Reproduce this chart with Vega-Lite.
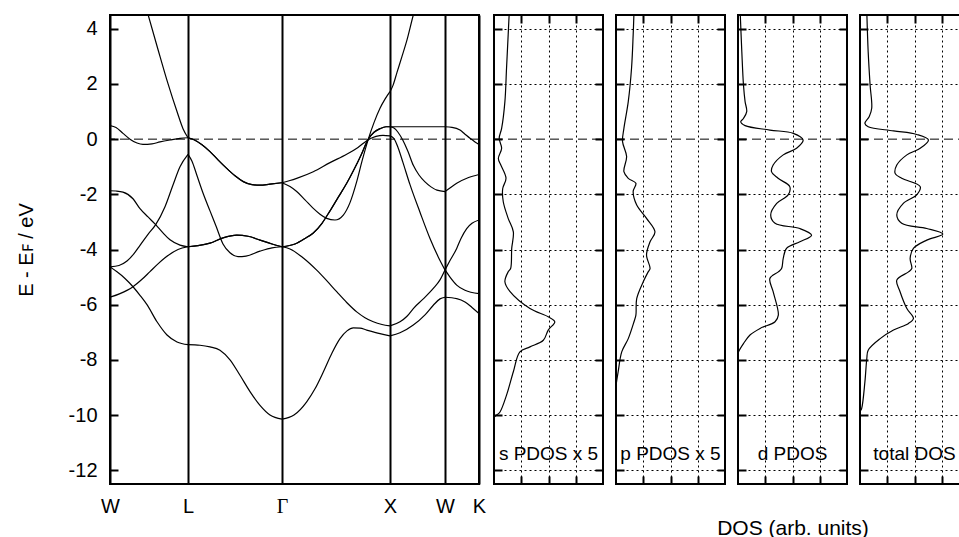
{
  "$schema": "https://vega.github.io/schema/vega-lite/v6.json",
  "background": "white",
  "padding": {"left": 15, "top": 13, "right": 0, "bottom": 0},
  "config": {
    "view": {"stroke": "black", "strokeWidth": 2},
    "font": "Liberation Sans",
    "axis": {
      "domain": false, "tickColor": "black", "tickWidth": 2,
      "labelColor": "black", "labelFont": "Liberation Sans", "labelFontSize": 20,
      "titleFont": "Liberation Sans", "titleFontWeight": "normal", "titleColor": "black",
      "labelFlush": false, "labelOverlap": false,
      "gridColor": "black", "gridDash": [2, 3], "gridWidth": 1, "gridOpacity": 1
    }
  },
  "datasets": {
    "bands": [
      {"b":"WLa","k":37,"e":4.65},{"b":"WLa","k":48,"e":3.25},{"b":"WLa","k":58,"e":2.01},{"b":"WLa","k":67,"e":1.0},{"b":"WLa","k":73,"e":0.38},{"b":"WLa","k":78,"e":0.05},
      {"b":"WLb","k":0,"e":0.49},{"b":"WLb","k":6,"e":0.42},{"b":"WLb","k":13,"e":0.21},{"b":"WLb","k":20,"e":0.0},{"b":"WLb","k":27,"e":-0.14},{"b":"WLb","k":33,"e":-0.19},{"b":"WLb","k":42,"e":-0.17},{"b":"WLb","k":50,"e":-0.1},{"b":"WLb","k":60,"e":-0.03},{"b":"WLb","k":70,"e":0.03},{"b":"WLb","k":78,"e":0.05},
      {"b":"WLc","k":0,"e":-1.87},{"b":"WLc","k":6,"e":-1.88},{"b":"WLc","k":13,"e":-1.92},{"b":"WLc","k":23,"e":-2.16},{"b":"WLc","k":30,"e":-2.52},{"b":"WLc","k":38,"e":-2.82},{"b":"WLc","k":45.7,"e":-3.1},{"b":"WLc","k":53,"e":-3.4},{"b":"WLc","k":60,"e":-3.65},{"b":"WLc","k":70,"e":-3.84},{"b":"WLc","k":78,"e":-3.9},
      {"b":"WLd","k":0,"e":-4.63},{"b":"WLd","k":9,"e":-4.58},{"b":"WLd","k":17,"e":-4.42},{"b":"WLd","k":24,"e":-4.15},{"b":"WLd","k":30,"e":-3.85},{"b":"WLd","k":38,"e":-3.45},{"b":"WLd","k":45.7,"e":-3.1},{"b":"WLd","k":55,"e":-2.45},{"b":"WLd","k":63,"e":-1.66},{"b":"WLd","k":70,"e":-1.0},{"b":"WLd","k":78,"e":-0.55},
      {"b":"WLe","k":0,"e":-5.73},{"b":"WLe","k":10,"e":-5.6},{"b":"WLe","k":23,"e":-5.35},{"b":"WLe","k":32,"e":-5.08},{"b":"WLe","k":40,"e":-4.8},{"b":"WLe","k":48,"e":-4.52},{"b":"WLe","k":55,"e":-4.3},{"b":"WLe","k":68,"e":-4.0},{"b":"WLe","k":78,"e":-3.9},
      {"b":"WLf","k":0,"e":-4.63},{"b":"WLf","k":7,"e":-4.81},{"b":"WLf","k":15,"e":-5.05},{"b":"WLf","k":23,"e":-5.35},{"b":"WLf","k":30,"e":-5.66},{"b":"WLf","k":37,"e":-6.0},{"b":"WLf","k":47,"e":-6.62},{"b":"WLf","k":57,"e":-7.1},{"b":"WLf","k":67,"e":-7.35},{"b":"WLf","k":78,"e":-7.45},
      {"b":"LGa","k":78,"e":0.05},{"b":"LGa","k":84,"e":-0.02},{"b":"LGa","k":92,"e":-0.2},{"b":"LGa","k":100,"e":-0.45},{"b":"LGa","k":108,"e":-0.75},{"b":"LGa","k":116.7,"e":-1.06},{"b":"LGa","k":125,"e":-1.33},{"b":"LGa","k":133.3,"e":-1.54},{"b":"LGa","k":142,"e":-1.65},{"b":"LGa","k":150,"e":-1.67},{"b":"LGa","k":160,"e":-1.63},{"b":"LGa","k":172,"e":-1.58},
      {"b":"LGb","k":78,"e":0.05},{"b":"LGb","k":84,"e":-0.02},{"b":"LGb","k":92,"e":-0.2},{"b":"LGb","k":100,"e":-0.45},{"b":"LGb","k":108,"e":-0.75},{"b":"LGb","k":116.7,"e":-1.06},{"b":"LGb","k":125,"e":-1.33},{"b":"LGb","k":133.3,"e":-1.54},{"b":"LGb","k":142,"e":-1.65},{"b":"LGb","k":150,"e":-1.67},{"b":"LGb","k":160,"e":-1.63},{"b":"LGb","k":172,"e":-1.58},
      {"b":"LGd","k":78,"e":-0.55},{"b":"LGd","k":82,"e":-0.8},{"b":"LGd","k":86.7,"e":-1.29},{"b":"LGd","k":93,"e":-1.95},{"b":"LGd","k":100,"e":-2.6},{"b":"LGd","k":106,"e":-3.15},{"b":"LGd","k":113,"e":-3.8},{"b":"LGd","k":120,"e":-4.12},{"b":"LGd","k":128,"e":-4.26},{"b":"LGd","k":136,"e":-4.24},{"b":"LGd","k":150,"e":-4.06},{"b":"LGd","k":162,"e":-3.94},{"b":"LGd","k":172,"e":-3.9},
      {"b":"LGc","k":78,"e":-3.9},{"b":"LGc","k":88,"e":-3.86},{"b":"LGc","k":100,"e":-3.77},{"b":"LGc","k":113,"e":-3.58},{"b":"LGc","k":126.7,"e":-3.48},{"b":"LGc","k":138,"e":-3.52},{"b":"LGc","k":150,"e":-3.66},{"b":"LGc","k":162,"e":-3.8},{"b":"LGc","k":172,"e":-3.9},
      {"b":"LGe","k":78,"e":-3.9},{"b":"LGe","k":88,"e":-3.86},{"b":"LGe","k":100,"e":-3.77},{"b":"LGe","k":113,"e":-3.58},{"b":"LGe","k":126.7,"e":-3.48},{"b":"LGe","k":138,"e":-3.52},{"b":"LGe","k":150,"e":-3.66},{"b":"LGe","k":162,"e":-3.8},{"b":"LGe","k":172,"e":-3.9},
      {"b":"LGf","k":78,"e":-7.45},{"b":"LGf","k":90,"e":-7.47},{"b":"LGf","k":100,"e":-7.53},{"b":"LGf","k":110,"e":-7.65},{"b":"LGf","k":120,"e":-8.0},{"b":"LGf","k":130,"e":-8.56},{"b":"LGf","k":140,"e":-9.15},{"b":"LGf","k":150,"e":-9.65},{"b":"LGf","k":160,"e":-10.0},{"b":"LGf","k":172,"e":-10.15},
      {"b":"GXf","k":172,"e":-10.15},{"b":"GXf","k":184,"e":-10.0},{"b":"GXf","k":196.7,"e":-9.52},{"b":"GXf","k":205,"e":-9.05},{"b":"GXf","k":213.3,"e":-8.44},{"b":"GXf","k":222,"e":-7.75},{"b":"GXf","k":230,"e":-7.23},{"b":"GXf","k":237,"e":-6.95},{"b":"GXf","k":243.3,"e":-6.84},{"b":"GXf","k":250,"e":-6.85},{"b":"GXf","k":256.7,"e":-6.92},{"b":"GXf","k":270,"e":-7.05},{"b":"GXf","k":280,"e":-7.13},
      {"b":"GXl","k":172,"e":-3.9},{"b":"GXl","k":180,"e":-3.98},{"b":"GXl","k":193,"e":-4.3},{"b":"GXl","k":206.7,"e":-4.75},{"b":"GXl","k":216.7,"e":-5.13},{"b":"GXl","k":226.7,"e":-5.53},{"b":"GXl","k":236.7,"e":-5.92},{"b":"GXl","k":246.7,"e":-6.26},{"b":"GXl","k":255,"e":-6.47},{"b":"GXl","k":263.3,"e":-6.62},{"b":"GXl","k":272,"e":-6.72},{"b":"GXl","k":280,"e":-6.77},
      {"b":"GXt1","k":172,"e":-3.9},{"b":"GXt1","k":185,"e":-3.8},{"b":"GXt1","k":195,"e":-3.6},{"b":"GXt1","k":203.3,"e":-3.4},{"b":"GXt1","k":212,"e":-3.05},{"b":"GXt1","k":220,"e":-2.6},{"b":"GXt1","k":228,"e":-2.12},{"b":"GXt1","k":236.7,"e":-1.6},{"b":"GXt1","k":244,"e":-1.1},{"b":"GXt1","k":251,"e":-0.58},{"b":"GXt1","k":258.3,"e":0.0},{"b":"GXt1","k":264,"e":0.25},{"b":"GXt1","k":270,"e":0.38},{"b":"GXt1","k":276,"e":0.45},{"b":"GXt1","k":280,"e":0.45},
      {"b":"GXt2","k":172,"e":-3.9},{"b":"GXt2","k":185,"e":-3.8},{"b":"GXt2","k":195,"e":-3.6},{"b":"GXt2","k":203.3,"e":-3.4},{"b":"GXt2","k":212,"e":-3.05},{"b":"GXt2","k":220,"e":-2.6},{"b":"GXt2","k":228,"e":-2.12},{"b":"GXt2","k":236.7,"e":-1.6},{"b":"GXt2","k":244,"e":-1.1},{"b":"GXt2","k":251,"e":-0.58},{"b":"GXt2","k":258.3,"e":0.0},{"b":"GXt2","k":264,"e":0.25},{"b":"GXt2","k":270,"e":0.38},{"b":"GXt2","k":276,"e":0.45},{"b":"GXt2","k":280,"e":0.45},
      {"b":"GXd","k":172,"e":-1.58},{"b":"GXd","k":180,"e":-1.72},{"b":"GXd","k":186.7,"e":-1.9},{"b":"GXd","k":195,"e":-2.2},{"b":"GXd","k":203.3,"e":-2.51},{"b":"GXd","k":210,"e":-2.72},{"b":"GXd","k":216.7,"e":-2.87},{"b":"GXd","k":225,"e":-2.93},{"b":"GXd","k":233.3,"e":-2.75},{"b":"GXd","k":240,"e":-2.3},{"b":"GXd","k":246.7,"e":-1.54},{"b":"GXd","k":252,"e":-0.8},{"b":"GXd","k":258.3,"e":0.0},{"b":"GXd","k":264,"e":0.6},{"b":"GXd","k":270,"e":1.12},{"b":"GXd","k":275,"e":1.45},{"b":"GXd","k":280,"e":1.72},
      {"b":"GXg","k":172,"e":-1.58},{"b":"GXg","k":180,"e":-1.5},{"b":"GXg","k":186.7,"e":-1.42},{"b":"GXg","k":203.3,"e":-1.18},{"b":"GXg","k":220,"e":-0.85},{"b":"GXg","k":236.7,"e":-0.55},{"b":"GXg","k":248,"e":-0.3},{"b":"GXg","k":258.3,"e":-0.02},{"b":"GXg","k":266,"e":0.1},{"b":"GXg","k":273,"e":0.14},{"b":"GXg","k":280,"e":0.12},
      {"b":"XWt","k":280,"e":1.72},{"b":"XWt","k":283,"e":1.95},{"b":"XWt","k":287,"e":2.42},{"b":"XWt","k":292,"e":3.0},{"b":"XWt","k":297,"e":3.6},{"b":"XWt","k":303.3,"e":4.5},{"b":"XWt","k":306,"e":4.85},
      {"b":"XWf","k":280,"e":0.45},{"b":"XWf","k":300,"e":0.45},{"b":"XWf","k":320,"e":0.45},{"b":"XWf","k":335,"e":0.45},
      {"b":"XWm","k":280,"e":0.45},{"b":"XWm","k":284,"e":0.4},{"b":"XWm","k":288,"e":0.25},{"b":"XWm","k":293,"e":-0.05},{"b":"XWm","k":298,"e":-0.45},{"b":"XWm","k":303.3,"e":-0.95},{"b":"XWm","k":309,"e":-1.3},{"b":"XWm","k":315,"e":-1.55},{"b":"XWm","k":321,"e":-1.73},{"b":"XWm","k":327,"e":-1.85},{"b":"XWm","k":335,"e":-1.9},
      {"b":"XWs","k":280,"e":0.12},{"b":"XWs","k":284,"e":0.02},{"b":"XWs","k":288,"e":-0.3},{"b":"XWs","k":293,"e":-0.85},{"b":"XWs","k":300,"e":-1.65},{"b":"XWs","k":310,"e":-2.65},{"b":"XWs","k":320,"e":-3.6},{"b":"XWs","k":328,"e":-4.25},{"b":"XWs","k":335,"e":-4.74},
      {"b":"XWl1","k":280,"e":-6.77},{"b":"XWl1","k":290,"e":-6.62},{"b":"XWl1","k":297,"e":-6.42},{"b":"XWl1","k":303.3,"e":-6.14},{"b":"XWl1","k":313,"e":-5.8},{"b":"XWl1","k":323.3,"e":-5.41},{"b":"XWl1","k":330,"e":-5.1},{"b":"XWl1","k":335,"e":-4.74},
      {"b":"XWl2","k":280,"e":-7.13},{"b":"XWl2","k":290,"e":-7.02},{"b":"XWl2","k":303.3,"e":-6.74},{"b":"XWl2","k":315,"e":-6.37},{"b":"XWl2","k":323.3,"e":-6.02},{"b":"XWl2","k":330,"e":-5.79},{"b":"XWl2","k":335,"e":-5.73},
      {"b":"WK1","k":335,"e":0.45},{"b":"WK1","k":342,"e":0.43},{"b":"WK1","k":350,"e":0.33},{"b":"WK1","k":355,"e":0.18},{"b":"WK1","k":360,"e":0.03},{"b":"WK1","k":365,"e":-0.1},{"b":"WK1","k":369,"e":-0.19},
      {"b":"WK2","k":335,"e":-1.9},{"b":"WK2","k":341,"e":-1.74},{"b":"WK2","k":346.7,"e":-1.6},{"b":"WK2","k":358,"e":-1.4},{"b":"WK2","k":369,"e":-1.28},
      {"b":"WK3","k":335,"e":-4.74},{"b":"WK3","k":340,"e":-4.4},{"b":"WK3","k":346.7,"e":-3.96},{"b":"WK3","k":351,"e":-3.6},{"b":"WK3","k":356.7,"e":-3.24},{"b":"WK3","k":362,"e":-3.05},{"b":"WK3","k":369,"e":-2.93},
      {"b":"WK4","k":335,"e":-4.74},{"b":"WK4","k":340,"e":-5.0},{"b":"WK4","k":346.7,"e":-5.29},{"b":"WK4","k":355,"e":-5.48},{"b":"WK4","k":369,"e":-5.6},
      {"b":"WK5","k":335,"e":-5.73},{"b":"WK5","k":346.7,"e":-5.78},{"b":"WK5","k":355,"e":-5.9},{"b":"WK5","k":362,"e":-6.1},{"b":"WK5","k":369,"e":-6.32}
    ],
    "dos": [
      {"c":"s","e":4.6,"x":0.56},{"c":"s","e":3.78,"x":0.52},{"c":"s","e":2.57,"x":0.46},{"c":"s","e":1.36,"x":0.4},{"c":"s","e":0.39,"x":0.28},{"c":"s","e":0.03,"x":0.19},{"c":"s","e":-0.33,"x":0.28},{"c":"s","e":-0.7,"x":0.16},{"c":"s","e":-0.94,"x":0.25},{"c":"s","e":-1.42,"x":0.44},{"c":"s","e":-1.79,"x":0.32},{"c":"s","e":-2.27,"x":0.34},{"c":"s","e":-2.87,"x":0.52},{"c":"s","e":-3.36,"x":0.71},{"c":"s","e":-3.96,"x":0.65},{"c":"s","e":-4.69,"x":0.61},{"c":"s","e":-4.81,"x":0.52},{"c":"s","e":-5.17,"x":0.4},{"c":"s","e":-5.53,"x":0.59},{"c":"s","e":-6.14,"x":1.32},{"c":"s","e":-6.44,"x":1.99},{"c":"s","e":-6.62,"x":2.23},{"c":"s","e":-6.92,"x":1.99},{"c":"s","e":-7.29,"x":1.81},{"c":"s","e":-7.53,"x":1.32},{"c":"s","e":-7.71,"x":0.95},{"c":"s","e":-8.43,"x":0.71},{"c":"s","e":-9.28,"x":0.46},{"c":"s","e":-9.89,"x":0.22},{"c":"s","e":-10.0,"x":0.1},{"c":"s","e":-10.1,"x":0.0},{"c":"s","e":-12.6,"x":0.0},
      {"c":"p","e":4.6,"x":0.66},{"c":"p","e":3.78,"x":0.63},{"c":"p","e":2.57,"x":0.57},{"c":"p","e":1.36,"x":0.45},{"c":"p","e":0.39,"x":0.29},{"c":"p","e":-0.09,"x":0.24},{"c":"p","e":-0.63,"x":0.39},{"c":"p","e":-1.18,"x":0.29},{"c":"p","e":-1.42,"x":0.45},{"c":"p","e":-1.6,"x":0.73},{"c":"p","e":-1.9,"x":0.63},{"c":"p","e":-2.39,"x":0.76},{"c":"p","e":-2.87,"x":1.12},{"c":"p","e":-3.36,"x":1.43},{"c":"p","e":-3.72,"x":1.25},{"c":"p","e":-4.2,"x":1.12},{"c":"p","e":-4.69,"x":1.25},{"c":"p","e":-4.81,"x":1.18},{"c":"p","e":-5.17,"x":1.0},{"c":"p","e":-5.78,"x":0.76},{"c":"p","e":-6.38,"x":0.73},{"c":"p","e":-6.62,"x":0.66},{"c":"p","e":-7.23,"x":0.45},{"c":"p","e":-7.71,"x":0.21},{"c":"p","e":-8.43,"x":0.08},{"c":"p","e":-8.8,"x":0.02},{"c":"p","e":-9.0,"x":0.0},{"c":"p","e":-12.6,"x":0.0},
      {"c":"d","e":4.6,"x":0.08},{"c":"d","e":3.17,"x":0.14},{"c":"d","e":1.97,"x":0.2},{"c":"d","e":1.36,"x":0.26},{"c":"d","e":1.0,"x":0.32},{"c":"d","e":0.75,"x":0.2},{"c":"d","e":0.63,"x":0.1},{"c":"d","e":0.49,"x":0.26},{"c":"d","e":0.33,"x":1.17},{"c":"d","e":0.21,"x":2.03},{"c":"d","e":-0.03,"x":2.39},{"c":"d","e":-0.33,"x":2.15},{"c":"d","e":-0.57,"x":1.66},{"c":"d","e":-0.94,"x":1.29},{"c":"d","e":-1.18,"x":1.23},{"c":"d","e":-1.42,"x":1.47},{"c":"d","e":-1.72,"x":1.9},{"c":"d","e":-2.02,"x":1.84},{"c":"d","e":-2.33,"x":1.42},{"c":"d","e":-2.75,"x":1.2},{"c":"d","e":-3.05,"x":1.36},{"c":"d","e":-3.24,"x":2.27},{"c":"d","e":-3.48,"x":2.7},{"c":"d","e":-3.72,"x":2.27},{"c":"d","e":-3.96,"x":1.78},{"c":"d","e":-4.32,"x":1.66},{"c":"d","e":-4.69,"x":1.6},{"c":"d","e":-4.81,"x":1.48},{"c":"d","e":-5.05,"x":1.17},{"c":"d","e":-5.53,"x":1.29},{"c":"d","e":-6.38,"x":1.48},{"c":"d","e":-6.62,"x":1.36},{"c":"d","e":-6.86,"x":0.81},{"c":"d","e":-7.1,"x":0.44},{"c":"d","e":-7.41,"x":0.2},{"c":"d","e":-7.71,"x":0.02},{"c":"d","e":-7.8,"x":0.0},{"c":"d","e":-12.6,"x":0.0},
      {"c":"t","e":4.6,"x":0.25},{"c":"t","e":3.17,"x":0.3},{"c":"t","e":1.97,"x":0.37},{"c":"t","e":1.12,"x":0.43},{"c":"t","e":0.82,"x":0.34},{"c":"t","e":0.57,"x":0.18},{"c":"t","e":0.45,"x":0.3},{"c":"t","e":0.3,"x":1.23},{"c":"t","e":0.17,"x":2.08},{"c":"t","e":-0.03,"x":2.51},{"c":"t","e":-0.33,"x":2.21},{"c":"t","e":-0.57,"x":1.72},{"c":"t","e":-0.94,"x":1.35},{"c":"t","e":-1.24,"x":1.29},{"c":"t","e":-1.42,"x":1.53},{"c":"t","e":-1.72,"x":2.21},{"c":"t","e":-2.02,"x":2.08},{"c":"t","e":-2.33,"x":1.59},{"c":"t","e":-2.75,"x":1.35},{"c":"t","e":-3.05,"x":1.53},{"c":"t","e":-3.24,"x":2.45},{"c":"t","e":-3.44,"x":3.04},{"c":"t","e":-3.66,"x":2.45},{"c":"t","e":-3.96,"x":1.96},{"c":"t","e":-4.32,"x":1.84},{"c":"t","e":-4.69,"x":1.9},{"c":"t","e":-4.81,"x":1.78},{"c":"t","e":-5.11,"x":1.35},{"c":"t","e":-5.53,"x":1.47},{"c":"t","e":-6.14,"x":1.72},{"c":"t","e":-6.5,"x":1.96},{"c":"t","e":-6.68,"x":1.78},{"c":"t","e":-6.92,"x":1.23},{"c":"t","e":-7.23,"x":0.74},{"c":"t","e":-7.65,"x":0.3},{"c":"t","e":-7.95,"x":0.25},{"c":"t","e":-8.8,"x":0.18},{"c":"t","e":-9.77,"x":0.06},{"c":"t","e":-9.89,"x":0.0},{"c":"t","e":-12.6,"x":0.0}
    ]
  },
  "bounds": "flush",
  "spacing": 15,
  "hconcat": [
    {
      "width": 369, "height": 469,
      "layer": [
        {
          "data": {"name": "bands"},
          "mark": {"type": "line", "interpolate": "monotone", "strokeWidth": 1.2, "color": "black", "clip": true},
          "encoding": {
            "x": {"field": "k", "type": "quantitative", "scale": {"domain": [0, 369], "nice": false, "zero": false},
              "axis": {"values": [0, 78, 172, 280, 335, 369], "ticks": false, "tickSize": 0, "labelPadding": 12, "title": null,
                "labelExpr": "datum.value == 0 ? 'W' : datum.value == 78 ? 'L' : datum.value == 172 ? 'Γ' : datum.value == 280 ? 'X' : datum.value == 335 ? 'W' : 'K'",
                "labelFont": {"condition": {"test": "datum.value == 172", "value": "Liberation Serif"}, "value": "Liberation Sans"},
                "grid": true, "gridDash": [], "gridWidth": 2, "gridColor": "black"}},
            "y": {"field": "e", "type": "quantitative", "scale": {"domain": [-12.5, 4.5], "nice": false, "zero": false},
              "axis": {"values": [-12, -10, -8, -6, -4, -2, 0, 2, 4], "tickSize": -8, "labelPadding": 21, "grid": false,
                "labelExpr": "datum.value < 0 ? '-' + abs(datum.value) : '' + datum.value",
                "title": "E - Eꜰ / eV", "titleFontSize": 20, "titlePadding": 32}},
            "detail": {"field": "b"}
          }
        },
        {
          "data": {"values": [{}]},
          "mark": {"type": "rule", "strokeDash": [9, 5], "strokeWidth": 1, "color": "black"},
          "encoding": {"y": {"datum": 0, "type": "quantitative"}}
        }
      ]
    },
    {
      "bounds": "flush",
      "spacing": 13,
      "hconcat": [
        {
          "width": 109, "height": 469,
          "layer": [
            {"data": {"name": "dos"}, "transform": [{"filter": "datum.c == 's'"}],
             "mark": {"type": "line", "interpolate": "catmull-rom", "color": "black", "strokeWidth": 1.2, "clip": true},
             "encoding": {
               "x": {"field": "x", "type": "quantitative", "scale": {"domain": [0, 4], "nice": false, "zero": false},
                 "axis": {"values": [1, 2, 3], "labels": false, "tickSize": -8, "grid": true, "title": null}},
               "y": {"field": "e", "type": "quantitative", "scale": {"domain": [-12.5, 4.5], "nice": false, "zero": false},
                 "axis": {"values": [-12, -10, -8, -6, -4, -2, 0, 2, 4], "labels": false, "tickSize": -8, "grid": true,
                   "gridOpacity": {"condition": {"test": "datum.value == 0", "value": 0}, "value": 1}, "title": null}},
               "order": {"field": "e", "type": "quantitative", "sort": "descending"}
             }},
            {"data": {"values": [{}]},
             "mark": {"type": "rule", "strokeDash": [9, 5], "strokeWidth": 1, "color": "black"},
             "encoding": {
               "x": {"datum": 0, "type": "quantitative", "axis": {"orient": "top", "values": [1, 2, 3], "labels": false, "tickSize": -8, "grid": false, "title": null}},
               "x2": {"datum": 4},
               "y": {"datum": 0, "type": "quantitative", "axis": {"orient": "right", "values": [-12, -10, -8, -6, -4, -2, 0, 2, 4], "labels": false, "tickSize": -8, "grid": false, "title": null}}
             }},
            {"data": {"values": [{"t": "s PDOS x 5"}]},
             "mark": {"type": "text", "fontSize": 19, "font": "Liberation Sans", "color": "black", "baseline": "middle"},
             "encoding": {"x": {"datum": 2, "type": "quantitative", "axis": null}, "y": {"datum": -11.4, "type": "quantitative", "axis": null}, "text": {"field": "t"}}}
          ],
          "resolve": {"axis": {"x": "independent", "y": "independent"}}
        },
        {
          "width": 109, "height": 469,
          "layer": [
            {"data": {"name": "dos"}, "transform": [{"filter": "datum.c == 'p'"}],
             "mark": {"type": "line", "interpolate": "catmull-rom", "color": "black", "strokeWidth": 1.2, "clip": true},
             "encoding": {
               "x": {"field": "x", "type": "quantitative", "scale": {"domain": [0, 4], "nice": false, "zero": false},
                 "axis": {"values": [1, 2, 3], "labels": false, "tickSize": -8, "grid": true, "title": null}},
               "y": {"field": "e", "type": "quantitative", "scale": {"domain": [-12.5, 4.5], "nice": false, "zero": false},
                 "axis": {"values": [-12, -10, -8, -6, -4, -2, 0, 2, 4], "labels": false, "tickSize": -8, "grid": true,
                   "gridOpacity": {"condition": {"test": "datum.value == 0", "value": 0}, "value": 1}, "title": null}},
               "order": {"field": "e", "type": "quantitative", "sort": "descending"}
             }},
            {"data": {"values": [{}]},
             "mark": {"type": "rule", "strokeDash": [9, 5], "strokeWidth": 1, "color": "black"},
             "encoding": {
               "x": {"datum": 0, "type": "quantitative", "axis": {"orient": "top", "values": [1, 2, 3], "labels": false, "tickSize": -8, "grid": false, "title": null}},
               "x2": {"datum": 4},
               "y": {"datum": 0, "type": "quantitative", "axis": {"orient": "right", "values": [-12, -10, -8, -6, -4, -2, 0, 2, 4], "labels": false, "tickSize": -8, "grid": false, "title": null}}
             }},
            {"data": {"values": [{"t": "p PDOS x 5"}]},
             "mark": {"type": "text", "fontSize": 19, "font": "Liberation Sans", "color": "black", "baseline": "middle"},
             "encoding": {"x": {"datum": 2, "type": "quantitative", "axis": null}, "y": {"datum": -11.4, "type": "quantitative", "axis": null}, "text": {"field": "t"}}}
          ],
          "resolve": {"axis": {"x": "independent", "y": "independent"}}
        },
        {
          "width": 109, "height": 469,
          "layer": [
            {"data": {"name": "dos"}, "transform": [{"filter": "datum.c == 'd'"}],
             "mark": {"type": "line", "interpolate": "catmull-rom", "color": "black", "strokeWidth": 1.2, "clip": true},
             "encoding": {
               "x": {"field": "x", "type": "quantitative", "scale": {"domain": [0, 4], "nice": false, "zero": false},
                 "axis": {"values": [1, 2, 3], "labels": false, "tickSize": -8, "grid": true, "title": "DOS (arb. units)", "titleFontSize": 21, "titlePadding": 32}},
               "y": {"field": "e", "type": "quantitative", "scale": {"domain": [-12.5, 4.5], "nice": false, "zero": false},
                 "axis": {"values": [-12, -10, -8, -6, -4, -2, 0, 2, 4], "labels": false, "tickSize": -8, "grid": true,
                   "gridOpacity": {"condition": {"test": "datum.value == 0", "value": 0}, "value": 1}, "title": null}},
               "order": {"field": "e", "type": "quantitative", "sort": "descending"}
             }},
            {"data": {"values": [{}]},
             "mark": {"type": "rule", "strokeDash": [9, 5], "strokeWidth": 1, "color": "black"},
             "encoding": {
               "x": {"datum": 0, "type": "quantitative", "axis": {"orient": "top", "values": [1, 2, 3], "labels": false, "tickSize": -8, "grid": false, "title": null}},
               "x2": {"datum": 4},
               "y": {"datum": 0, "type": "quantitative", "axis": {"orient": "right", "values": [-12, -10, -8, -6, -4, -2, 0, 2, 4], "labels": false, "tickSize": -8, "grid": false, "title": null}}
             }},
            {"data": {"values": [{"t": "d PDOS"}]},
             "mark": {"type": "text", "fontSize": 19, "font": "Liberation Sans", "color": "black", "baseline": "middle"},
             "encoding": {"x": {"datum": 2, "type": "quantitative", "axis": null}, "y": {"datum": -11.4, "type": "quantitative", "axis": null}, "text": {"field": "t"}}}
          ],
          "resolve": {"axis": {"x": "independent", "y": "independent"}}
        },
        {
          "width": 109, "height": 469,
          "layer": [
            {"data": {"name": "dos"}, "transform": [{"filter": "datum.c == 't'"}],
             "mark": {"type": "line", "interpolate": "catmull-rom", "color": "black", "strokeWidth": 1.2, "clip": true},
             "encoding": {
               "x": {"field": "x", "type": "quantitative", "scale": {"domain": [0, 4], "nice": false, "zero": false},
                 "axis": {"values": [1, 2, 3], "labels": false, "tickSize": -8, "grid": true, "title": null}},
               "y": {"field": "e", "type": "quantitative", "scale": {"domain": [-12.5, 4.5], "nice": false, "zero": false},
                 "axis": {"values": [-12, -10, -8, -6, -4, -2, 0, 2, 4], "labels": false, "tickSize": -8, "grid": true,
                   "gridOpacity": {"condition": {"test": "datum.value == 0", "value": 0}, "value": 1}, "title": null}},
               "order": {"field": "e", "type": "quantitative", "sort": "descending"}
             }},
            {"data": {"values": [{}]},
             "mark": {"type": "rule", "strokeDash": [9, 5], "strokeWidth": 1, "color": "black"},
             "encoding": {
               "x": {"datum": 0, "type": "quantitative", "axis": {"orient": "top", "values": [1, 2, 3], "labels": false, "tickSize": -8, "grid": false, "title": null}},
               "x2": {"datum": 4},
               "y": {"datum": 0, "type": "quantitative", "axis": {"orient": "right", "values": [-12, -10, -8, -6, -4, -2, 0, 2, 4], "labels": false, "tickSize": -8, "grid": false, "title": null}}
             }},
            {"data": {"values": [{"t": "total DOS"}]},
             "mark": {"type": "text", "fontSize": 19, "font": "Liberation Sans", "color": "black", "baseline": "middle"},
             "encoding": {"x": {"datum": 2, "type": "quantitative", "axis": null}, "y": {"datum": -11.4, "type": "quantitative", "axis": null}, "text": {"field": "t"}}}
          ],
          "resolve": {"axis": {"x": "independent", "y": "independent"}}
        }
      ]
    }
  ]
}
